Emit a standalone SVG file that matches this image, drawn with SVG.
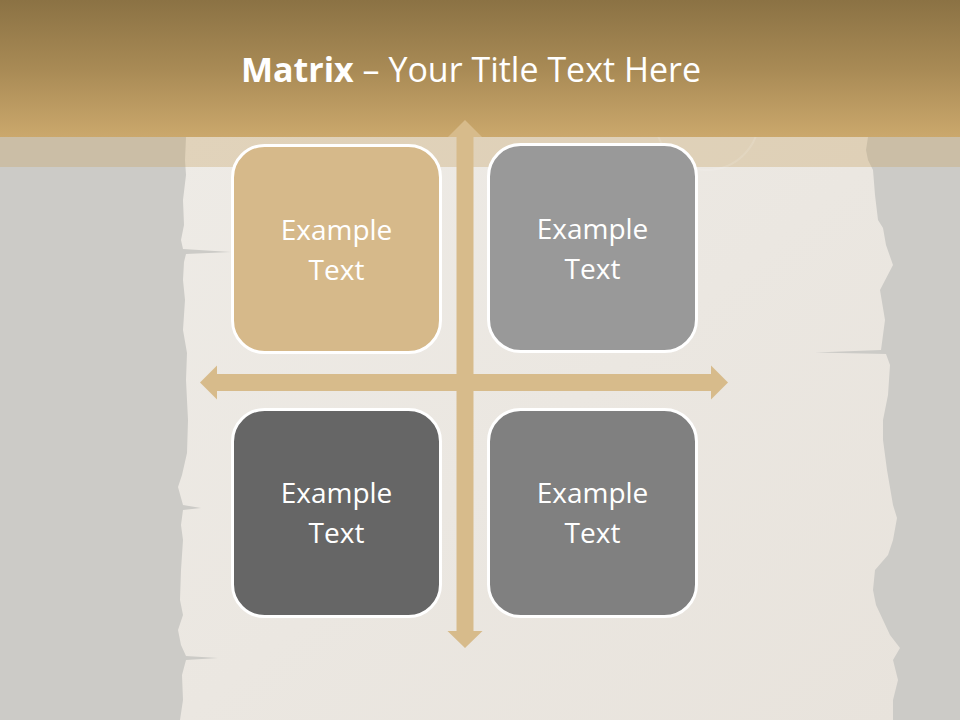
<svg xmlns="http://www.w3.org/2000/svg" width="960" height="720" viewBox="0 0 960 720">
<defs>
<linearGradient id="band" x1="0" y1="0" x2="0" y2="1">
<stop offset="0" stop-color="#8b7244"/>
<stop offset="0.5" stop-color="#a88a55"/>
<stop offset="1" stop-color="#cba86c"/>
</linearGradient>
<linearGradient id="paper" x1="0" y1="0" x2="1" y2="1">
<stop offset="0" stop-color="#eeebe6"/>
<stop offset="0.5" stop-color="#ebe7e1"/>
<stop offset="1" stop-color="#e8e3dc"/>
</linearGradient>
<style>
.box{stroke:#ffffff;stroke-width:3}
.lbl{font-family:"Open Sans","Liberation Sans",sans-serif;font-size:28px;fill:#ffffff;text-anchor:middle}
.arrow{fill:#d7bb8b}
</style>
</defs>
<rect x="0" y="0" width="960" height="720" fill="#cccbc7"/>
<path fill="url(#paper)" d="M186,137 L185,160 L186,175 L183,200 L184,225 L181,240 L183,249 L231,252 L186,254 L184,262 L183,280 L185,300 L183,330 L187,353 L186,380 L188,420 L187,453 L182,475 L178,487 L183,505 L201,508 L183,510 L181,525 L183,540 L181,570 L180,600 L183,615 L178,630 L181,645 L186,656 L218,658 L186,660 L182,675 L183,700 L180,720 L893,720 L893,700 L898,680 L893,660 L900,648 L890,635 L883,620 L876,605 L873,590 L875,570 L888,555 L893,540 L897,518 L893,505 L887,470 L883,440 L883,420 L888,395 L890,365 L886,354 L815,352.5 L881,350 L885,320 L880,290 L893,265 L886,245 L883,228 L878,220 L875,195 L873,170 L868,160 L866,150 L868,137 Z"/>
<rect x="0" y="137" width="960" height="30" fill="#c9a66b" fill-opacity="0.35"/>
<circle cx="707" cy="118" r="52" fill="none" stroke="#ffffff" stroke-opacity="0.12" stroke-width="2"/>
<rect x="0" y="0" width="960" height="137" fill="url(#band)"/>
<text x="471" y="82" font-family="'Open Sans','Liberation Sans',sans-serif" font-size="34" fill="#ffffff" text-anchor="middle"><tspan font-weight="bold">Matrix</tspan> – Your Title Text Here</text>
<g id="connectors">
<polygon class="arrow" points="465,120 482,137 473.5,137 473.5,631 482.5,631 465,648 447.5,631 456.5,631 456.5,137 448,137"/>
<polygon class="arrow" points="200,382.5 217,365.5 217,374 711,374 711,365.5 728,382.5 711,399.5 711,391 217,391 217,399.5"/>
</g>
<g id="node-tl">
<rect class="box" x="232.5" y="145.5" width="208" height="207" rx="32" fill="#d6b98a"/>
<text class="lbl" x="336.5" y="240">Example</text>
<text class="lbl" x="336.5" y="280">Text</text>
</g>
<g id="node-tr">
<rect class="box" x="488.5" y="144.5" width="208" height="207" rx="32" fill="#999999"/>
<text class="lbl" x="592.5" y="239">Example</text>
<text class="lbl" x="592.5" y="279">Text</text>
</g>
<g id="node-bl">
<rect class="box" x="232.5" y="409.5" width="208" height="207" rx="32" fill="#666666"/>
<text class="lbl" x="336.5" y="503">Example</text>
<text class="lbl" x="336.5" y="543">Text</text>
</g>
<g id="node-br">
<rect class="box" x="488.5" y="409.5" width="208" height="207" rx="32" fill="#808080"/>
<text class="lbl" x="592.5" y="503">Example</text>
<text class="lbl" x="592.5" y="543">Text</text>
</g>
</svg>
